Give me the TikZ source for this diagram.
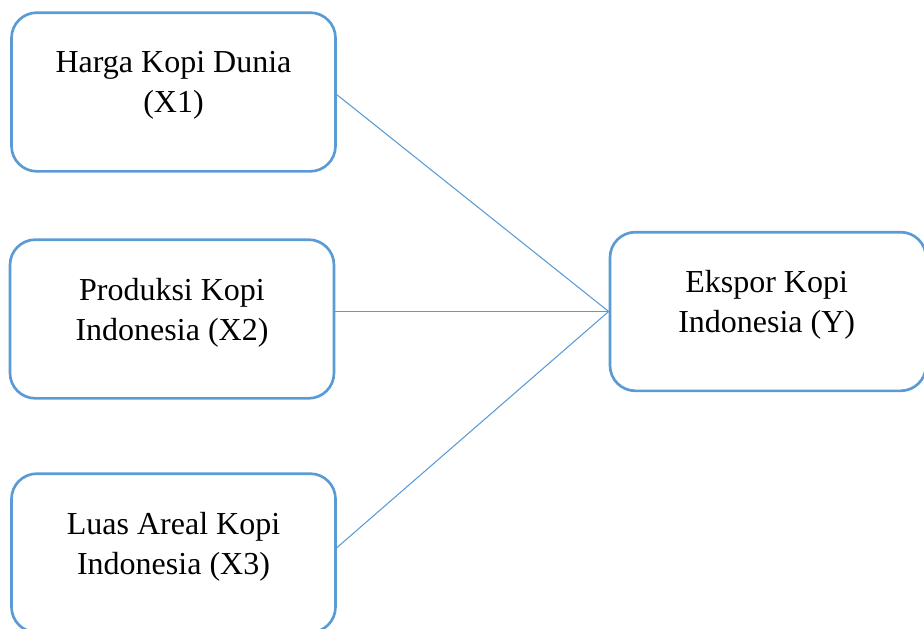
\documentclass[tikz,border=0pt]{standalone}
\usepackage{fontspec}
\setmainfont{Liberation Serif}
\definecolor{boxblue}{RGB}{91,155,213}

\begin{document}
\begin{tikzpicture}[x=0.75pt,y=-0.75pt,
  varbox/.style={draw=boxblue,line width=2pt,rounded corners=19pt,minimum width=243pt,minimum height=119pt},
  vartext/.style={font=\fontsize{24}{30}\selectfont,align=center,yshift=5pt},
  link/.style={draw=boxblue,line width=0.8pt}]
\clip (0,0) rectangle (924,628);
\useasboundingbox (0,0) rectangle (924,628);
% variabel bebas
\node[varbox] (x1) at (173.5,92) {};
\node[vartext] (x1t) at (x1.center) {Harga Kopi Dunia\\(X1)};
\node[varbox] (x2) at (172,319) {};
\node[vartext] (x2t) at (x2.center) {Produksi Kopi\\Indonesia (X2)};
\node[varbox] (x3) at (173.5,553) {};
\node[vartext] (x3t) at (x3.center) {Luas Areal Kopi\\Indonesia (X3)};
% variabel terikat
\node[varbox,minimum width=237pt] (y) at (768,311.5) {};
\node[vartext] (yt) at ([xshift=-1pt]y.center) {Ekspor Kopi\\Indonesia (Y)};
% hubungan
\draw[link] ([yshift=-2pt]x1.east) -- (y.west);
\draw[link] (x2.east |- y.west) -- (y.west);
\draw[link] ([yshift=4pt]x3.east) -- (y.west);
\end{tikzpicture}
\end{document}
